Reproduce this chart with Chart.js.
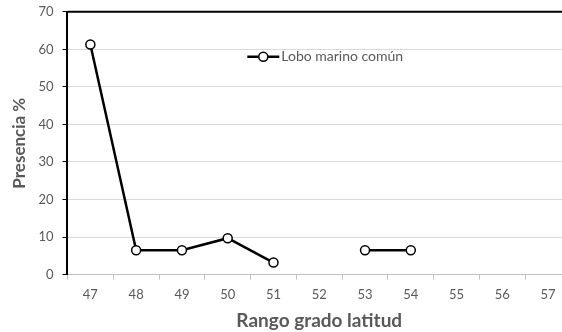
<!DOCTYPE html>
<html>
<head>
<meta charset="utf-8">
<script src="https://cdn.jsdelivr.net/npm/chart.js@4"></script>
<style>
  html, body { margin: 0; padding: 0; overflow: hidden; background: #fff; }
  #wrap { width: 580px; height: 337px; margin-top: -5px; position: relative; }
</style>
</head>
<body>
<div id="wrap"><canvas id="chart"></canvas></div>
<script>
/* ── Datos ───────────────────────────────────────────── */
const latitudes  = ['47', '48', '49', '50', '51', '52', '53', '54', '55', '56', '57'];
const presencia  = [61.3, 6.5, 6.5, 9.7, 3.2, null, 6.5, 6.5, null, null, null];
const serieNombre = 'Lobo marino común';
const yMin = 0, yMax = 70, yPaso = 10;

const FONT = 'Lato, "Liberation Sans", sans-serif';
const GRIS = '#595959';

/* ── Marco superior + leyenda estilo Excel ───────────── */
const marcoYLeyenda = {
  id: 'marcoYLeyenda',
  afterDraw(chart) {
    const { ctx, chartArea: a } = chart;
    const ds = chart.data.datasets[0];
    ctx.save();
    // borde superior del área de trazado
    ctx.strokeStyle = '#000';
    ctx.lineWidth = 2;
    ctx.beginPath(); ctx.moveTo(a.left, a.top); ctx.lineTo(a.right, a.top); ctx.stroke();

    // leyenda: línea + marcador + texto
    ctx.font = '14px ' + FONT;
    const tw = ctx.measureText(ds.label).width;
    const total = 34 + tw;
    const x0 = (a.left + a.right) / 2 - total / 2 + 6;
    const y = a.top + 45;
    ctx.strokeStyle = ds.borderColor;
    ctx.lineWidth = ds.borderWidth;
    ctx.beginPath(); ctx.moveTo(x0, y); ctx.lineTo(x0 + 32, y); ctx.stroke();
    ctx.fillStyle = '#fff';
    ctx.lineWidth = ds.pointBorderWidth;
    ctx.beginPath(); ctx.arc(x0 + 16, y, ds.pointRadius, 0, Math.PI * 2); ctx.fill(); ctx.stroke();
    ctx.fillStyle = GRIS;
    ctx.textBaseline = 'middle';
    ctx.fillText(ds.label, x0 + 34, y);
    ctx.restore();
  }
};

new Chart(document.getElementById('chart'), {
  type: 'line',
  data: {
    labels: latitudes,
    datasets: [{
      label: serieNombre,
      data: presencia,
      borderColor: '#000',
      borderWidth: 2.5,
      pointRadius: 4.5,
      pointBorderWidth: 1.5,
      pointBackgroundColor: '#fff',
      pointBorderColor: '#000',
      spanGaps: false,
      tension: 0,
    }]
  },
  options: {
    responsive: true, maintainAspectRatio: false, animation: false,
    layout: { padding: { top: 3, right: 9, left: 0, bottom: 0 } },
    plugins: { legend: { display: false }, tooltip: { enabled: false } },
    scales: {
      x: {
        offset: true,
        grid: { offset: true, drawOnChartArea: false, tickLength: 5, color: '#bfbfbf' },
        border: { color: '#bfbfbf', width: 1 },
        ticks: { color: GRIS, padding: 7, font: { size: 13, family: FONT } },
        title: { display: true, text: 'Rango grado latitud', color: GRIS,
                 font: { size: 19, weight: 'bold', family: FONT }, padding: { top: 0, bottom: 0 } }
      },
      y: {
        min: yMin, max: yMax,
        ticks: { stepSize: yPaso, color: GRIS, padding: 9, font: { size: 13, family: FONT } },
        grid: { color: '#d9d9d9', tickLength: 5, tickColor: '#000' },
        border: { color: '#000', width: 2 },
        title: { display: true, text: 'Presencia %', color: GRIS,
                 font: { size: 17, weight: 'bold', family: FONT }, padding: { top: 9, bottom: 0 } }
      }
    }
  },
  plugins: [marcoYLeyenda]
});
</script>
</body>
</html>
